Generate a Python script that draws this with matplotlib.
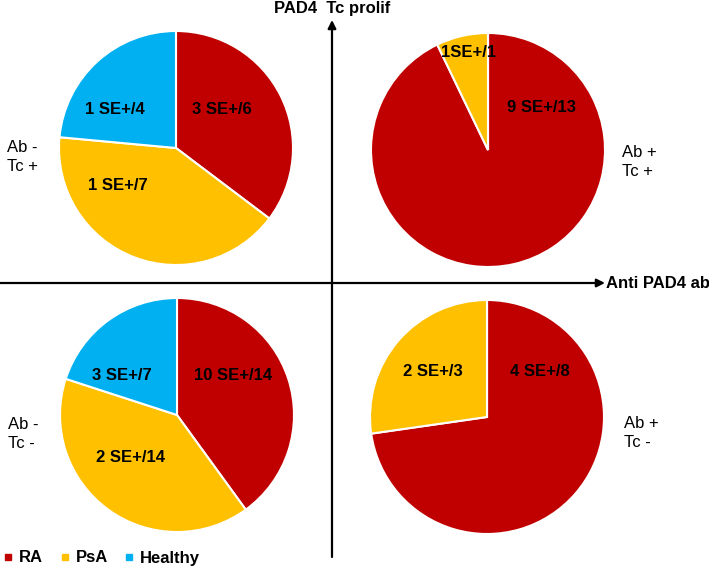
import matplotlib.pyplot as plt
from matplotlib.lines import Line2D

plt.rcParams["font.family"] = ["Liberation Sans", "DejaVu Sans"]

# group order in every pie: RA, PsA, Healthy
groups = ["RA", "PsA", "Healthy"]
colors = ["#C00000", "#FFC000", "#00B0F0"]

# patient counts per quadrant
ab_neg_tc_pos = [6, 7, 4]
ab_pos_tc_pos = [13, 1, 0]
ab_neg_tc_neg = [14, 14, 7]
ab_pos_tc_neg = [8, 3, 0]

# SE+ / total labels per quadrant
labels_tl = ["3 SE+/6", "1 SE+/7", "1 SE+/4"]
labels_tr = ["9 SE+/13", "1SE+/1"]
labels_bl = ["10 SE+/14", "2 SE+/14", "3 SE+/7"]
labels_br = ["4 SE+/8", "2 SE+/3"]

quadrant_names = ["Ab -\nTc +", "Ab +\nTc +", "Ab -\nTc -", "Ab +\nTc -"]

W, H = 709, 570


def main():
    fig = plt.figure(figsize=(W / 100, H / 100), dpi=100)

    # overlay axes in pixel coordinates for arrows and side labels
    ax0 = fig.add_axes([0, 0, 1, 1])
    ax0.set_xlim(0, W)
    ax0.set_ylim(H, 0)
    ax0.axis("off")

    arrow = dict(arrowstyle="-|>", lw=1.6, color="black", mutation_scale=12,
                 shrinkA=0, shrinkB=0)
    ax0.annotate("", xy=(605, 283), xytext=(0, 283), arrowprops=arrow)
    ax0.annotate("", xy=(332, 20), xytext=(332, 557), arrowprops=arrow)
    ax0.text(606, 283, "Anti PAD4 ab", fontsize=12, fontweight="bold",
             ha="left", va="center")
    ax0.text(332, 8, "PAD4  Tc prolif", fontsize=12, fontweight="bold",
             ha="center", va="center")

    side_pos = [(7, 157, "left"), (622, 162, "left"),
                (8, 434, "left"), (624, 433, "left")]
    for (x, y, ha), name in zip(side_pos, quadrant_names):
        ax0.text(x, y, name, fontsize=12, ha=ha, va="center", linespacing=1.3)

    r = 117
    pies = [
        ((176, 148), ab_neg_tc_pos, labels_tl,
         [(0.39, 0.33), (-0.50, -0.32), (-0.52, 0.33)]),
        ((488, 150), ab_pos_tc_pos, labels_tr,
         [(0.46, 0.36), (-0.17, 0.83)]),
        ((177, 415), ab_neg_tc_neg, labels_bl,
         [(0.48, 0.34), (-0.40, -0.36), (-0.47, 0.34)]),
        ((487, 417), ab_pos_tc_neg, labels_br,
         [(0.45, 0.39), (-0.46, 0.39)]),
    ]
    for (cx, cy), counts, labels, pos in pies:
        ax = fig.add_axes([(cx - r) / W, 1 - (cy + r) / H, 2 * r / W, 2 * r / H])
        ax.pie(counts, colors=colors, startangle=90, counterclock=False,
               wedgeprops=dict(edgecolor="white", linewidth=1.5))
        ax.set_xlim(-1, 1)
        ax.set_ylim(-1, 1)
        for (x, y), lab in zip(pos, labels):
            ax.text(x, y, lab, fontsize=12, fontweight="bold",
                    ha="center", va="center")

    handles = [Line2D([], [], marker="s", linestyle="", color=c, markersize=5)
               for c in colors]
    fig.legend(handles, groups, loc="center left", bbox_to_anchor=(-0.005, 1 - 558 / H),
               ncol=3, frameon=False, handlelength=0.6, handletextpad=0.35,
               columnspacing=1.0, borderaxespad=0,
               prop=dict(size=12, weight="bold"))

    fig.savefig("out.png", dpi=100)


if __name__ == "__main__":
    main()
